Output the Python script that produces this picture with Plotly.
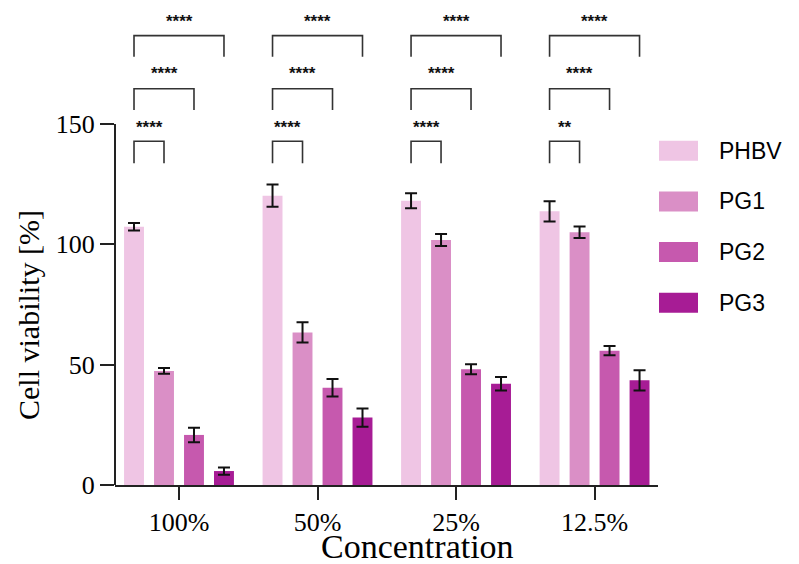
import plotly.graph_objects as go

# ---- data ----
concentrations = ["100%", "50%", "25%", "12.5%"]
groups = ["PHBV", "PG1", "PG2", "PG3"]
phbv = [107.3, 120.2, 118.1, 113.7]
phbv_err = [1.6, 4.6, 3.1, 4.2]
pg1 = [47.4, 63.4, 101.8, 105.0]
pg1_err = [1.2, 4.2, 2.5, 2.4]
pg2 = [20.8, 40.4, 48.1, 55.8]
pg2_err = [3.0, 3.6, 2.1, 1.9]
pg3 = [5.8, 28.0, 42.1, 43.5]
pg3_err = [1.5, 3.8, 2.8, 4.2]
# significance vs PHBV: [PG1, PG2, PG3] for each concentration
significance = [
    ["****", "****", "****"],
    ["****", "****", "****"],
    ["****", "****", "****"],
    ["**", "****", "****"],
]
y_ticks = [0, 50, 100, 150]

values = [phbv, pg1, pg2, pg3]
errors = [phbv_err, pg1_err, pg2_err, pg3_err]
colors = ["#EFC5E4", "#DA8FC6", "#C659AE", "#A71C95"]

BARGAP = 0.134
BARGROUPGAP = 0.336

# page body has an 8px margin; work in screen pixels and convert
OFF = 8
FIG_W, FIG_H = 799 - OFF, 564 - OFF
PLOT_L, PLOT_R = 115, 658          # screen px
PLOT_T, PLOT_B = 8, 485            # screen px
PX_PER_UNIT = 2.407
YMAX = (PLOT_B - PLOT_T) / PX_PER_UNIT


def px_x(px):
    return (px - PLOT_L) / (PLOT_R - PLOT_L)


def px_y(px):
    return (PLOT_B - px) / (PLOT_B - PLOT_T)


fig = go.Figure()
for name, v, e, c in zip(groups, values, errors, colors):
    fig.add_trace(go.Bar(
        name=name, x=concentrations, y=v,
        marker=dict(color=c, line=dict(width=0)),
        error_y=dict(type="data", array=e, visible=True,
                     thickness=2, width=6, color="#111111"),
        showlegend=False,
    ))

# bar centre offsets within a category (grouped mode)
slot = (1 - BARGAP) / len(groups)
offsets = [(k - (len(groups) - 1) / 2) * slot for k in range(len(groups))]

# significance brackets (PHBV vs PGx)
levels = [(133.7, 142.8, 148.6), (155.8, 164.6, 170.8), (177.9, 186.7, 192.5)]
shapes = []
annotations = []
for i, row in enumerate(significance):
    for j, label in enumerate(row):
        y_end, y_top, y_txt = levels[j]
        x0 = i + offsets[0]
        x1 = i + offsets[j + 1]
        shapes.append(dict(
            type="path", xref="x", yref="y",
            path=f"M {x0},{y_end} L {x0},{y_top} L {x1},{y_top} L {x1},{y_end}",
            line=dict(color="#333333", width=1.6),
        ))
        annotations.append(dict(
            x=(x0 + x1) / 2, y=y_txt, xref="x", yref="y",
            text=f"<b>{label}</b>", showarrow=False,
            xanchor="center", yanchor="middle",
            font=dict(family="Liberation Sans, Arial", size=17, color="#111111"),
        ))

# y-axis line only from 0 to 150
shapes.append(dict(type="line", xref="paper", yref="paper",
                   x0=0, x1=0, y0=0, y1=150 / YMAX,
                   line=dict(color="#222222", width=2)))

# custom legend
leg_y_px = [150.7, 201.4, 252.1, 302.8]
for name, c, ypx in zip(groups, colors, leg_y_px):
    shapes.append(dict(type="rect", xref="paper", yref="paper",
                       x0=px_x(659), x1=px_x(698),
                       y0=px_y(ypx + 10), y1=px_y(ypx - 10),
                       fillcolor=c, line=dict(width=0)))
    annotations.append(dict(
        x=px_x(717), y=px_y(ypx), xref="paper", yref="paper",
        text=name, showarrow=False, xanchor="left", yanchor="middle",
        font=dict(family="Liberation Sans, Arial", size=23, color="#000000"),
    ))

# axis titles
annotations.append(dict(
    x=px_x(28), y=px_y(315), xref="paper", yref="paper",
    text="Cell viability [%]", textangle=-90, showarrow=False,
    xanchor="center", yanchor="middle",
    font=dict(family="Liberation Serif, Times New Roman", size=30, color="#000000"),
))
annotations.append(dict(
    x=px_x(417), y=px_y(546), xref="paper", yref="paper",
    text="Concentration", showarrow=False,
    xanchor="center", yanchor="middle",
    font=dict(family="Liberation Serif, Times New Roman", size=34, color="#000000"),
))

fig.update_layout(
    width=FIG_W, height=FIG_H,
    margin=dict(l=PLOT_L - OFF, r=FIG_W - (PLOT_R - OFF),
                t=PLOT_T - OFF, b=FIG_H - (PLOT_B - OFF), pad=0),
    paper_bgcolor="white", plot_bgcolor="white",
    barmode="group", bargap=BARGAP, bargroupgap=BARGROUPGAP,
    shapes=shapes, annotations=annotations,
    xaxis=dict(
        type="category", range=[-0.462, 3.458],
        showline=True, linecolor="#222222", linewidth=2,
        ticks="outside", ticklen=13, tickwidth=2, tickcolor="#222222",
        showgrid=False, zeroline=False,
        tickfont=dict(family="Liberation Serif, Times New Roman", size=26, color="#000000"),
    ),
    yaxis=dict(
        range=[0, YMAX], tickvals=y_ticks, ticktext=[str(t) for t in y_ticks],
        showline=False, ticks="outside", ticklen=14, tickwidth=2, tickcolor="#222222",
        showgrid=False, zeroline=False,
        tickfont=dict(family="Liberation Serif, Times New Roman", size=26, color="#000000"),
    ),
)

fig.write_html("out.html")
